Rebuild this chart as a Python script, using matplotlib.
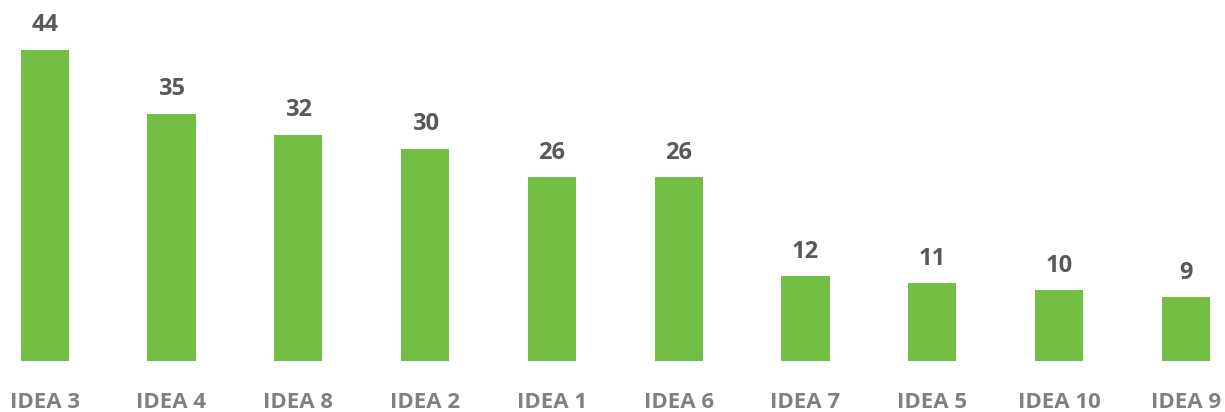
import matplotlib.pyplot as plt

ideas = ["IDEA 3", "IDEA 4", "IDEA 8", "IDEA 2", "IDEA 1",
         "IDEA 6", "IDEA 7", "IDEA 5", "IDEA 10", "IDEA 9"]
votes = [44, 35, 32, 30, 26, 26, 12, 11, 10, 9]

plt.rcParams['font.family'] = ['Open Sans', 'DejaVu Sans']

fig = plt.figure(figsize=(12.25, 4.12), dpi=100)
ax = fig.add_axes([0, 51 / 412, 1, 361 / 412])

x = range(len(ideas))
bars = ax.bar(x, votes, width=0.38, color="#72BF44")

# value labels over each bar
for rect, v in zip(bars, votes):
    ax.annotate(str(v), (rect.get_x() + rect.get_width() / 2, v),
                xytext=(0, 13.3), textcoords="offset points",
                ha="center", va="baseline", fontsize=17,
                fontweight="bold", color="#595959")

ax.set_xlim(-0.353, 9.308)
ax.set_ylim(0, 51.06)
ax.set_xticks(list(x))
ax.set_xticklabels(ideas, fontsize=16, fontweight="bold", color="#808080")
ax.tick_params(axis="x", length=0, pad=22)
ax.set_yticks([])
for s in ax.spines.values():
    s.set_visible(False)

fig.savefig("out.png", dpi=100)
